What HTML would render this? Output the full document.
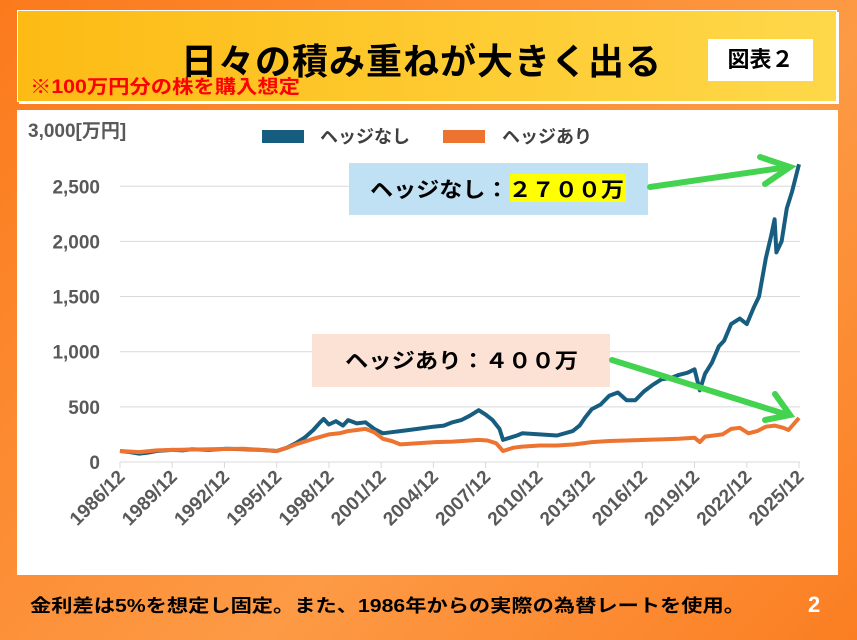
<!DOCTYPE html>
<html><head><meta charset="utf-8"><style>
body{margin:0;width:857px;height:640px;overflow:hidden;font-family:"Liberation Sans","Noto Sans CJK JP",sans-serif;}
#bg{position:absolute;left:0;top:0;width:857px;height:640px;background:linear-gradient(135deg,#fb7a1c,#fd9a45 60%,#fb7e22);}
#title{position:absolute;left:17px;top:10px;width:818px;height:90px;background:linear-gradient(90deg,#fdbb14,#fed84a);border:1px solid #fff;box-shadow:2px 2px 0 #fff;}
</style></head><body>
<div id="bg"></div>
<div id="title">
 <div style="position:absolute;left:163px;top:22px;font-size:36px;font-weight:bold;color:#000;letter-spacing:1px">日々の積み重ねが大きく出る</div>
 <div style="position:absolute;left:690px;top:28px;width:105px;height:42px;background:#fff;font-size:22px;font-weight:bold;line-height:42px;text-align:center">図表２</div>
</div>
<svg width="857" height="640" style="position:absolute;left:0;top:0">
<text x="30" y="93" font-size="19" font-weight="bold" fill="#f00" textLength="270" lengthAdjust="spacingAndGlyphs">※100万円分の株を購入想定</text>
<rect x="17" y="110" width="821" height="465" fill="#fff"/>
<g id="grid"></g><g id="series"></g>
<text x="28" y="137" font-size="19" font-weight="bold" fill="#595959">3,000[万円]</text>
<rect x="262" y="130" width="42" height="13" fill="#175d80"/>
<text x="320" y="143" font-size="18" font-weight="bold" fill="#404040">ヘッジなし</text>
<rect x="443" y="130" width="42" height="13" fill="#ed7430"/>
<text x="502" y="143" font-size="18" font-weight="bold" fill="#404040">ヘッジあり</text>
<rect x="349" y="163" width="299" height="52" fill="#bfe1f3"/>
<rect x="510" y="174" width="116" height="28" fill="#ffff00"/>
<text x="370" y="197" font-size="21" font-weight="bold" textLength="254" lengthAdjust="spacingAndGlyphs">ヘッジなし：２７００万</text>
<rect x="312" y="334" width="298" height="53" fill="#fbe2d5"/>
<text x="345" y="368" font-size="21" font-weight="bold" textLength="233" lengthAdjust="spacingAndGlyphs">ヘッジあり：４００万</text>
<g stroke="#44d350" stroke-width="6" fill="none" stroke-linecap="round">
<line x1="650" y1="187" x2="788" y2="167"/><polyline points="760,157 790,167 765,184"/>
<line x1="612" y1="360" x2="788" y2="415"/><polyline points="775,394 790,415 765,420"/>
</g>
<text x="30" y="612" font-size="18" font-weight="bold" fill="#000" textLength="715" lengthAdjust="spacingAndGlyphs">金利差は5%を想定し固定。また、1986年からの実際の為替レートを使用。</text>
<text x="808" y="612" font-size="22" font-weight="bold" fill="#fff">2</text>
</svg>
<script>
const yTicks=[0,500,1000,1500,2000,2500];
const xLabels=["1986/12","1989/12","1992/12","1995/12","1998/12","2001/12","2004/12","2007/12","2010/12","2013/12","2016/12","2019/12","2022/12","2025/12"];
const noHedgeT=[1986.9,1987.5,1988,1988.5,1989,1989.9,1990.5,1991,1992,1993,1994,1995,1995.9,1996.5,1997,1997.5,1998,1998.4,1998.6,1998.9,1999.3,1999.7,2000,2000.5,2001,2001.5,2002,2002.5,2003,2004,2004.9,2005.5,2006,2006.5,2007,2007.5,2007.9,2008.3,2008.7,2008.9,2009.3,2009.7,2010,2011,2012,2012.9,2013.3,2013.6,2014,2014.5,2015,2015.5,2016,2016.5,2017,2017.5,2018,2018.5,2019,2019.5,2019.9,2020.2,2020.5,2020.9,2021.3,2021.6,2022,2022.5,2022.9,2023.3,2023.6,2024,2024.3,2024.5,2024.6,2024.9,2025.2,2025.5,2025.9];
const noHedgeV=[100,90,75,85,100,110,105,115,110,120,115,110,100,130,170,220,290,360,390,340,370,330,380,350,360,300,260,270,280,300,320,330,360,380,420,470,430,380,300,200,220,240,260,250,240,280,330,400,480,520,600,630,560,560,640,700,750,760,790,810,840,650,800,900,1050,1100,1250,1300,1250,1400,1500,1850,2050,2200,1900,2000,2300,2450,2700];
const hedgeT=[1986.9,1988,1989,1990,1992,1994,1995.9,1996.5,1997,1998,1998.9,1999.5,2000,2000.5,2001,2001.5,2002,2002.5,2003,2004,2005,2006,2007,2007.5,2008,2008.5,2008.9,2009.5,2010,2011,2012,2013,2014,2015,2016,2017,2018,2019,2019.9,2020.2,2020.5,2021,2021.5,2022,2022.5,2023,2023.5,2024,2024.5,2025,2025.3,2025.9];
const hedgeV=[100,90,105,110,115,120,100,130,160,210,250,260,280,290,300,270,210,190,160,170,180,185,195,200,195,170,100,130,140,150,150,160,180,190,195,200,205,210,220,180,230,240,250,300,310,260,280,320,330,310,290,400];
const X=y=>120+(y-1986.9)/39*679, Y=v=>462-v*0.1103;
const NS="http://www.w3.org/2000/svg";
const grid=document.getElementById('grid');
function mk(t,a,p){const e=document.createElementNS(NS,t);for(const k in a)e.setAttribute(k,a[k]);p.appendChild(e);return e;}
yTicks.forEach(v=>{
 const l=mk('line',{x1:120,x2:800,y1:Y(v),y2:Y(v),stroke:'#d9d9d9','stroke-width':1},grid);
 
 
 const t=mk('text',{x:100,y:Y(v)+7,'text-anchor':'end','font-size':19,'font-weight':'bold',fill:'#595959'},grid);
 t.textContent=v.toLocaleString('en-US');
 
 
});
xLabels.forEach((s,i)=>{
 const x=120+i*679/13;
 const tk=mk('line',{x1:x,x2:x,y1:462,y2:468,stroke:'#d9d9d9'},grid);
 
 
 const t=mk('text',{x:x+6,y:478,'text-anchor':'end','font-size':19,'font-weight':'bold',fill:'#595959',transform:`rotate(-45 ${x+6} 478)`},grid);
 t.textContent=s;
 
 
});
const sg=document.getElementById('series');
function line(T,V,c,n){
 const p=mk('polyline',{points:T.map((t,i)=>X(t).toFixed(1)+','+Y(V[i]).toFixed(1)).join(' '),fill:'none',stroke:c,'stroke-width':4,'stroke-linejoin':'round'},sg);
 
 
}
line(noHedgeT,noHedgeV,'#175d80','line-nohedge');
line(hedgeT,hedgeV,'#ed7430','line-hedge');
</script>
</body></html>
